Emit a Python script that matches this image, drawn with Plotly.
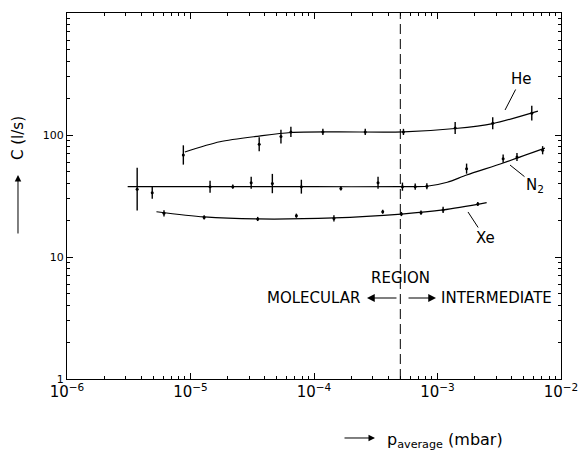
import math
import plotly.graph_objects as go

# ---------------- data ----------------
# measured conductance C (l/s) vs average pressure (mbar)
he_p = [8.75e-6, 3.6e-5, 5.4e-5, 6.5e-5, 1.18e-4, 2.6e-4, 5.3e-4, 1.39e-3, 2.8e-3, 5.8e-3]
he_c = [68.6, 84, 97, 106, 106, 106, 106, 114, 125, 151]
he_err = [20, 14, 14, 10, 6, 6, 6, 12, 12, 15]          # uncertainty, percent

n2_p = [3.7e-6, 4.9e-6, 1.44e-5, 2.2e-5, 3.1e-5, 4.6e-5, 7.9e-5, 1.65e-4,
        3.3e-4, 5.2e-4, 6.6e-4, 8.2e-4, 1.72e-3, 3.4e-3, 4.4e-3, 7.1e-3]
n2_c = [36, 33.6, 37.7, 37.7, 40.6, 40, 37.7, 36.5, 40.6, 37.7, 37.7, 38, 53, 64, 66, 75]
n2_err = [50, 12, 12, 4, 12, 20, 14, 4, 12, 8, 6, 6, 10, 8, 8, 8]

xe_p = [6.1e-6, 1.29e-5, 3.5e-5, 7.2e-5, 1.45e-4, 3.6e-4, 5.1e-4, 7.35e-4, 1.11e-3, 2.12e-3]
xe_c = [22.8, 21.1, 20.5, 21.8, 20.7, 23.5, 22.5, 23.1, 24.3, 27.2]
xe_err = [6, 4, 4, 4, 6, 4, 4, 4, 6, 4]

# smooth fitted curves
he_curve_p = [9.0e-6, 1.73e-5, 3.6e-5, 6.5e-5, 1.5e-4, 5.3e-4, 1.39e-3, 2.8e-3, 6.5e-3]
he_curve_c = [72.6, 88, 98, 104.8, 106, 106, 113, 124, 157]

n2_curve_p = [3.1e-6, 1e-5, 1e-4, 5e-4, 8.2e-4, 1.2e-3, 1.72e-3, 3.4e-3, 7.4e-3]
n2_curve_c = [37.7, 37.7, 37.7, 37.7, 38, 41, 47, 59, 78]

xe_curve_p = [5.3e-6, 1.29e-5, 3.5e-5, 1.45e-4, 5.1e-4, 1.11e-3, 2.5e-3]
xe_curve_c = [23.5, 21.3, 20.5, 20.9, 22.5, 24.3, 27.9]

region_p = 5e-4              # boundary molecular / intermediate region
c_range = [1, 1000]

y_tickvals = [1, 10, 100, 1000]
y_ticktext = ["1", "10", "100", ""]

FONT = "DejaVu Sans"
INK = "black"


def err_arrays(c, pct):
    up = [v * p / 100 for v, p in zip(c, pct)]
    dn = [v * (p / 100) / (1 + p / 100) for v, p in zip(c, pct)]
    return up, dn


fig = go.Figure()

for cp, cc in [(he_curve_p, he_curve_c), (n2_curve_p, n2_curve_c), (xe_curve_p, xe_curve_c)]:
    fig.add_trace(go.Scatter(x=cp, y=cc, mode="lines", line=dict(color=INK, width=1.2, shape="spline", smoothing=0.8),
                             showlegend=False, hoverinfo="skip"))

for p, c, e in [(he_p, he_c, he_err), (n2_p, n2_c, n2_err), (xe_p, xe_c, xe_err)]:
    up, dn = err_arrays(c, e)
    fig.add_trace(go.Scatter(x=p, y=c, mode="markers",
                             marker=dict(color=INK, size=3),
                             error_y=dict(type="data", array=up, arrayminus=dn, symmetric=False,
                                          color=INK, thickness=1.4, width=0),
                             showlegend=False))

fig.add_trace(go.Scatter(x=[region_p, region_p], y=c_range, mode="lines",
                         line=dict(color=INK, width=1, dash="10px,5px"), showlegend=False, hoverinfo="skip"))

lr = math.log10(region_p)
ann_font = dict(family=FONT, size=15, color=INK)
annotations = [
    dict(x=-2.453, y=2.205, text="He", ax=16, ay=-31, showarrow=True, arrowhead=0, arrowwidth=1,
         arrowcolor=INK, font=ann_font),
    dict(x=-2.413, y=1.754, text="N<sub>2</sub>", ax=25, ay=20, showarrow=True, arrowhead=0, arrowwidth=1,
         arrowcolor=INK, font=ann_font),
    dict(x=-2.753, y=1.369, text="Xe", ax=17, ay=26, showarrow=True, arrowhead=0, arrowwidth=1,
         arrowcolor=INK, font=ann_font),
    dict(x=lr, y=0.828, text="REGION", showarrow=False, font=ann_font),
    dict(x=-3.611, y=0.664, text="MOLECULAR", showarrow=False, xanchor="right", font=ann_font),
    dict(x=-3.571, y=0.664, text="", ax=31, ay=0, showarrow=True, arrowhead=2, arrowsize=1.3,
         arrowwidth=1.2, arrowcolor=INK),
    dict(x=-3.012, y=0.664, text="", ax=-29, ay=0, showarrow=True, arrowhead=2, arrowsize=1.3,
         arrowwidth=1.2, arrowcolor=INK),
    dict(x=-2.985, y=0.664, text="INTERMEDIATE", showarrow=False, xanchor="left", font=ann_font),
    # axis titles
    dict(xref="paper", yref="paper", x=-0.0992, y=0.6585, text="C (l/s)", textangle=-90,
         xanchor="center", yanchor="middle",
         showarrow=False, font=dict(family=FONT, size=15, color=INK)),
    dict(xref="paper", yref="paper", x=-0.0992, y=0.5574, text="", ax=0, ay=60, showarrow=True,
         arrowhead=2, arrowsize=1.3, arrowwidth=1, arrowcolor=INK),
    dict(xref="paper", yref="paper", x=0.6235, y=-0.1612, text="", ax=-32, ay=0, showarrow=True,
         arrowhead=2, arrowsize=1.3, arrowwidth=1, arrowcolor=INK),
    dict(xref="paper", yref="paper", x=0.6437, y=-0.1667, text="p<sub>average</sub> (mbar)",
         xanchor="left", yanchor="middle", showarrow=False, font=dict(family=FONT, size=16, color=INK)),
]

axis_common = dict(type="log", showline=True, linecolor=INK, linewidth=1, mirror="allticks",
                   ticks="inside", ticklen=6, tickwidth=1, tickcolor=INK, showgrid=False, zeroline=False,
                   automargin=False, ticklabeloverflow="allow",
                   minor=dict(ticks="inside", ticklen=3, tickwidth=1, tickcolor=INK, dtick="D1", showgrid=False))

fig.update_xaxes(**axis_common, range=[-6, -2], dtick=1, exponentformat="power",
                 tickfont=dict(family=FONT, size=12, color=INK))
fig.update_yaxes(**axis_common, range=[0, 3], tickmode="array", tickvals=y_tickvals, ticktext=y_ticktext,
                 tickfont=dict(family=FONT, size=11, color=INK))

fig.update_layout(template="none", width=580, height=462, margin=dict(l=67, r=19, t=13, b=83),
                  plot_bgcolor="white", paper_bgcolor="white", annotations=annotations,
                  font=dict(family=FONT, color=INK), showlegend=False)

# remove the browser's default 8px body margin so the figure fills the window exactly
fig.write_html("out.html", config={"displayModeBar": False},
               post_script="document.body.style.margin='0';document.body.style.overflow='hidden';")
